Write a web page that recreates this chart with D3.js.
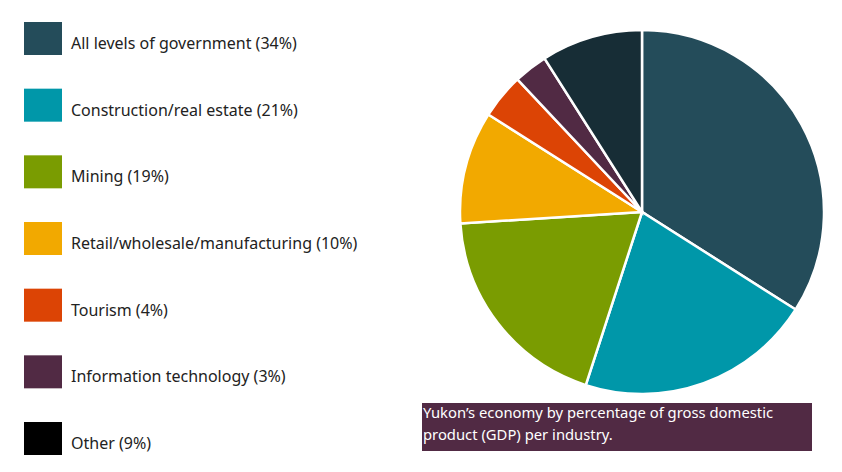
<!DOCTYPE html>
<head>
<style>
    body { margin: 0; background: #fff; }
    text { font-family: "Noto Sans", sans-serif; }
</style>
</head>

<body>
    <svg id="container" height="472" width="842"></svg>
</body>

<script src="https://d3js.org/d3.v7.min.js"></script>
<script>

    let industries = ["All levels of government", "Construction/real estate", "Mining",
        "Retail/wholesale/manufacturing", "Tourism", "Information technology", "Other"]
    let shares = [34, 21, 19, 10, 4, 3, 9]
    let sliceColours = ["#244c5a", "#0097a9", "#7a9c01", "#f2a900", "#dc4405", "#512a44", "#172d36"]
    let legendColours = ["#244c5a", "#0097a9", "#7a9c01", "#f2a900", "#dc4405", "#512a44", "#000000"]
    let captionLines = ["Yukon\u2019s economy by percentage of gross domestic", "product (GDP) per industry."]

    let svg = d3.select("#container")
    let data = industries.map((name, i) => ({name: name, value: shares[i], i: i}))

    // pie
    let pieG = svg.append("g").attr("transform", "translate(642,212)")
    let pie = d3.pie().value(d => d.value).sort(null)
    let arc = d3.arc().innerRadius(0).outerRadius(182)

    pieG.selectAll("path")
        .data(pie(data))
        .enter()
        .append("path")
        .attr("d", arc)
        .attr("fill", d => sliceColours[d.data.i])
        .attr("stroke", "white")
        .attr("stroke-width", 2.5)

    // legend
    let legendY = d3.scaleLinear().domain([0, 6]).range([22, 422])

    let legend = svg.selectAll(".legend")
        .data(data)
        .enter()
        .append("g")
        .attr("class", "legend")
        .attr("transform", d => "translate(24," + legendY(d.i) + ")")

    legend.append("rect")
        .attr("width", 38)
        .attr("height", 33)
        .attr("fill", d => legendColours[d.i])

    legend.append("text")
        .attr("x", 47)
        .attr("y", 27)
        .attr("font-size", 16)
        .attr("fill", "#222")
        .text(d => d.name + " (" + d.value + "%)")

    // caption
    svg.append("rect")
        .attr("x", 422).attr("y", 403)
        .attr("width", 390).attr("height", 48)
        .attr("fill", "#512a44")

    svg.selectAll(".caption")
        .data(captionLines)
        .enter()
        .append("text")
        .attr("class", "caption")
        .attr("x", 423)
        .attr("y", (d, i) => 418 + i * 22)
        .attr("font-size", 14.8)
        .attr("fill", "white")
        .text(d => d)

</script>
